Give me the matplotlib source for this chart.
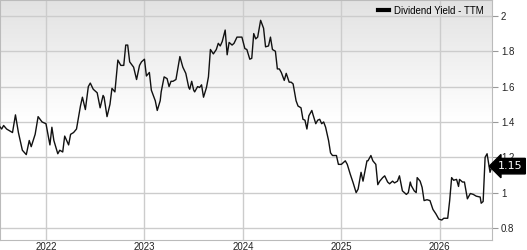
import numpy as np
import matplotlib.pyplot as plt
from matplotlib.colors import LinearSegmentedColormap

# decimal year positions and dividend yield (%)
years = [2021.53, 2021.55, 2021.57, 2021.60, 2021.63, 2021.66, 2021.69, 2021.72, 2021.76, 2021.80,
         2021.83, 2021.85, 2021.89, 2021.92, 2021.96, 2022.00, 2022.04, 2022.06, 2022.08, 2022.12,
         2022.14, 2022.17, 2022.19, 2022.23, 2022.25, 2022.28, 2022.31, 2022.35, 2022.37, 2022.40,
         2022.43, 2022.45, 2022.48, 2022.52, 2022.55, 2022.58, 2022.59, 2022.62, 2022.65, 2022.67,
         2022.70, 2022.73, 2022.76, 2022.79, 2022.81, 2022.83, 2022.85, 2022.89, 2022.92, 2022.95,
         2022.97, 2023.00, 2023.02, 2023.05, 2023.07, 2023.11, 2023.13, 2023.16, 2023.17, 2023.20,
         2023.23, 2023.25, 2023.27, 2023.29, 2023.32, 2023.36, 2023.39, 2023.42, 2023.45, 2023.46,
         2023.48, 2023.50, 2023.51, 2023.54, 2023.56, 2023.58, 2023.60, 2023.63, 2023.65, 2023.67,
         2023.70, 2023.73, 2023.75, 2023.77, 2023.79, 2023.82, 2023.84, 2023.86, 2023.89, 2023.91,
         2023.94, 2023.97, 2023.99, 2024.02, 2024.04, 2024.07, 2024.09, 2024.11, 2024.13, 2024.15,
         2024.18, 2024.21, 2024.23, 2024.26, 2024.28, 2024.30, 2024.33, 2024.35, 2024.37, 2024.39,
         2024.42, 2024.44, 2024.47, 2024.49, 2024.51, 2024.54, 2024.56, 2024.59, 2024.61, 2024.63,
         2024.65, 2024.67, 2024.70, 2024.71, 2024.74, 2024.76, 2024.78, 2024.80, 2024.82, 2024.84,
         2024.87, 2024.89, 2024.91, 2024.95, 2024.97, 2025.00, 2025.04, 2025.06, 2025.09, 2025.12,
         2025.15, 2025.17, 2025.20, 2025.22, 2025.26, 2025.27, 2025.30, 2025.32, 2025.35, 2025.37,
         2025.39, 2025.42, 2025.44, 2025.47, 2025.49, 2025.52, 2025.54, 2025.57, 2025.59, 2025.62,
         2025.66, 2025.68, 2025.70, 2025.71, 2025.74, 2025.76, 2025.77, 2025.80, 2025.82, 2025.84,
         2025.87, 2025.90, 2025.93, 2025.96, 2025.99, 2026.02, 2026.04, 2026.08, 2026.10, 2026.12,
         2026.14, 2026.17, 2026.19, 2026.20, 2026.23, 2026.25, 2026.28, 2026.31, 2026.34, 2026.37,
         2026.41, 2026.42, 2026.44, 2026.46, 2026.48, 2026.51, 2026.53]
dividend_yield = [1.374, 1.36, 1.38, 1.36, 1.35, 1.34, 1.44, 1.34, 1.24, 1.215,
                  1.295, 1.26, 1.33, 1.43, 1.40, 1.39, 1.27, 1.37, 1.295, 1.22,
                  1.24, 1.23, 1.32, 1.27, 1.33, 1.34, 1.36, 1.49, 1.54, 1.47,
                  1.60, 1.62, 1.585, 1.565, 1.48, 1.55, 1.54, 1.43, 1.50, 1.59,
                  1.57, 1.75, 1.72, 1.72, 1.835, 1.835, 1.74, 1.71, 1.64, 1.72,
                  1.74, 1.755, 1.66, 1.68, 1.58, 1.52, 1.465, 1.52, 1.57, 1.655,
                  1.645, 1.60, 1.63, 1.63, 1.64, 1.77, 1.71, 1.675, 1.595, 1.585,
                  1.63, 1.58, 1.57, 1.60, 1.595, 1.61, 1.54, 1.595, 1.655, 1.81,
                  1.785, 1.81, 1.845, 1.83, 1.855, 1.92, 1.78, 1.85, 1.835, 1.845,
                  1.88, 1.88, 1.88, 1.815, 1.81, 1.755, 1.76, 1.90, 1.87, 1.88,
                  1.975, 1.93, 1.825, 1.83, 1.88, 1.81, 1.80, 1.70, 1.70, 1.68,
                  1.635, 1.675, 1.625, 1.625, 1.615, 1.52, 1.49, 1.48, 1.415, 1.41,
                  1.36, 1.435, 1.465, 1.445, 1.39, 1.41, 1.415, 1.39, 1.40, 1.37,
                  1.295, 1.225, 1.21, 1.21, 1.16, 1.16, 1.18, 1.16, 1.105, 1.055,
                  1.00, 1.02, 1.115, 1.065, 1.18, 1.18, 1.21, 1.18, 1.16, 1.045,
                  1.065, 1.085, 1.095, 1.06, 1.05, 1.065, 1.055, 1.065, 1.095, 1.01,
                  0.99, 1.00, 1.06, 1.04, 1.01, 1.00, 1.085, 1.065, 1.03, 0.955,
                  0.96, 0.955, 0.905, 0.88, 0.85, 0.845, 0.855, 0.855, 0.955, 1.085,
                  1.07, 1.075, 1.035, 1.075, 1.06, 1.06, 0.965, 0.995, 0.99, 0.98,
                  0.975, 0.94, 0.95, 1.20, 1.22, 1.115, 1.15]
year_ticks = [2022, 2023, 2024, 2025, 2026]
yield_ticks = [0.8, 1.0, 1.2, 1.4, 1.6, 1.8, 2.0]
yield_labels = ['0.8', '1', '1.2', '1.4', '1.6', '1.8', '2']
last_value = 1.15

plt.rcParams['font.family'] = 'Liberation Sans'

fig = plt.figure(figsize=(5.27, 2.5), dpi=100)
ax = fig.add_axes([0.0, 0.04, 0.9336, 0.96])

# grey-to-white gradient in the upper half of the plot
grad = np.linspace(0, 1, 256).reshape(-1, 1)
cmap = LinearSegmentedColormap.from_list('bg', [(0.0, '#ffffff'), (0.5, '#ffffff'), (1.0, '#e2e2e2')])
ax.imshow(grad, aspect='auto', cmap=cmap, extent=[0, 1, 0, 1], origin='lower',
          transform=ax.transAxes, zorder=0)

ax.plot(years, dividend_yield, color='#111111', lw=1.0, zorder=3)

ax.set_xlim(2021.533, 2026.53)
ax.set_ylim(0.732, 2.09)
ax.set_xticks(year_ticks)
ax.set_xticklabels([str(y) for y in year_ticks])
ax.set_yticks(yield_ticks)
ax.set_yticklabels(yield_labels)
ax.yaxis.tick_right()
ax.grid(True, color='#cccccc', lw=1.0, zorder=1)
ax.set_axisbelow(True)
ax.tick_params(axis='x', length=0, pad=1.5, labelsize=7, colors='#222222')
ax.tick_params(axis='y', length=4.5, width=0.8, color='#999999', pad=2, labelsize=7, labelcolor='#222222')
for s in ax.spines.values():
    s.set_color('#bbbbbb')
    s.set_linewidth(0.8)

# legend
ax.plot([], [], color='black', lw=3, label='Dividend Yield - TTM')
ax.legend(loc='upper right', frameon=False, fontsize=7, handlelength=1.1, handletextpad=0.5,
          borderaxespad=0.2, bbox_to_anchor=(0.995, 1.0))

# last value tag
ax.annotate(f'{last_value:.2f}', xy=(1.0, last_value), xycoords=('axes fraction', 'data'),
            xytext=(1.037, last_value), textcoords=('axes fraction', 'data'),
            ha='center', va='center', color='white', fontsize=8, family='DejaVu Sans',
            bbox=dict(boxstyle='larrow,pad=0.25', fc='black', ec='black'), annotation_clip=False)

fig.savefig('out.png', dpi=100)
